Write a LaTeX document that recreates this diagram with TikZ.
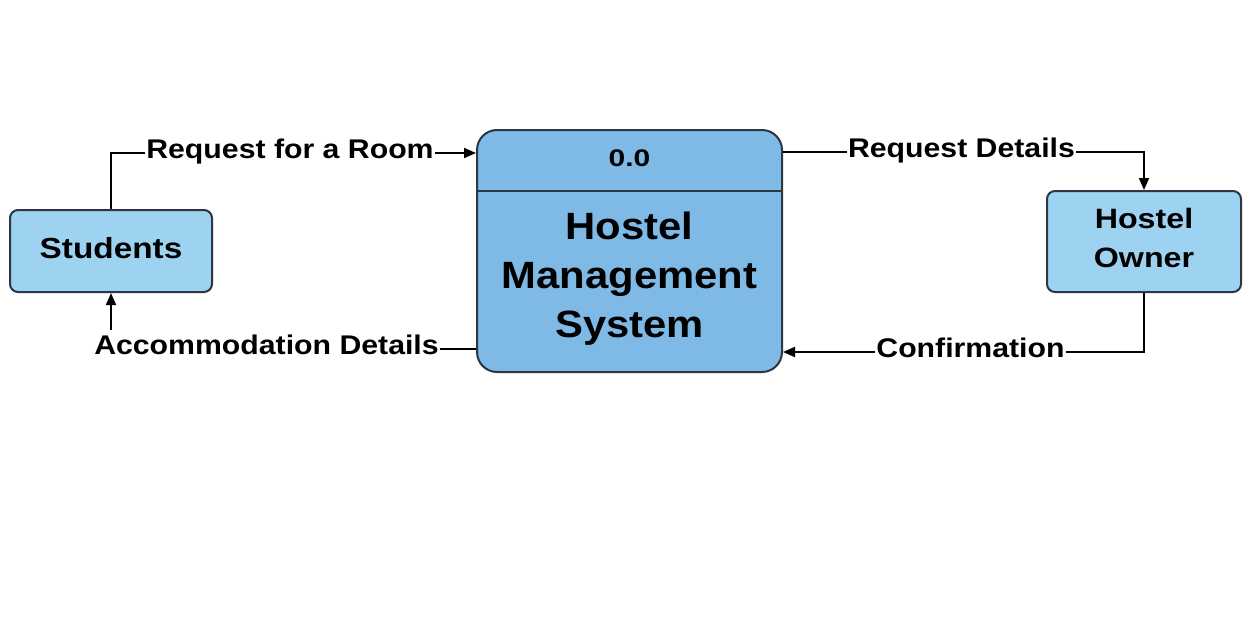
\documentclass[tikz,border=0pt]{standalone}
\usepackage{fontspec}
\setmainfont{Liberation Sans}
\newfontfamily\lblfont{Liberation Sans}[FakeStretch=1.12]
\newfontfamily\numfont{Liberation Sans}[FakeStretch=1.25]
\newfontfamily\extfont{Liberation Sans}[FakeStretch=1.15]
\newfontfamily\procfont{Liberation Sans}[FakeStretch=1.1]
\usetikzlibrary{arrows.meta,calc}
\definecolor{edgegray}{HTML}{2C3742}
\definecolor{extblue}{HTML}{9DD3F1}
\definecolor{procblue}{HTML}{7FB9E6}
\tikzset{
  extbox/.style={draw=edgegray, line width=2pt, fill=extblue, rounded corners=8pt,
    inner sep=0pt, align=center, font=\extfont\bfseries\fontsize{29}{39}\selectfont},
  procbox/.style={draw=edgegray, line width=2pt, fill=procblue, rounded corners=20pt, inner sep=0pt},
  flowlbl/.style={inner sep=1pt, text height=12pt, text depth=2pt,
    font=\lblfont\bfseries\fontsize{27}{31}\selectfont},
  flow/.style={draw=black, line width=1.8pt},
  flowarr/.style={flow, -{Triangle[length=12pt,width=10pt]}},
}
\begin{document}
\begin{tikzpicture}[x=1pt,y=-1pt]
\useasboundingbox (0,0) rectangle (1243,637);
\fill[white] (0,0) rectangle (1243,637);

% external entities
\node[extbox, minimum width=202pt, minimum height=82pt, text depth=7pt] (stu) at (111,251) {Students};
\node[extbox, minimum width=194pt, minimum height=101pt, text depth=8pt,
      font=\extfont\bfseries\fontsize{28}{39}\selectfont] (own) at (1144,241.5) {Hostel\\Owner};

% process
\node[procbox, minimum width=305pt, minimum height=242pt] (proc) at (629.5,251) {};
\coordinate (divy) at (629.5,191);
\draw[draw=edgegray, line width=2pt] (proc.west |- divy) -- (proc.east |- divy);
\node[inner sep=0pt, font=\numfont\bfseries\fontsize{24}{28}\selectfont] (pnum) at (629.5,158) {0.0};
\node[inner sep=0pt, align=center, font=\procfont\bfseries\fontsize{38}{49}\selectfont] (ptitle) at (629.5,279) {Hostel\\Management\\System};

% flow labels
\node[flowlbl] (rr) at (290,153) {Request for a Room};
\node[flowlbl] (ad) at (266.5,349) {Accommodation Details};
\node[flowlbl] (rd) at (961.5,152) {Request Details};
\node[flowlbl] (cf) at (970.5,352) {Confirmation};

% flows
\draw[flow] (stu.north) |- (rr.west);
\draw[flowarr] (rr.east) -- (rr.east -| proc.west);

\draw[flow] (proc.east |- rd) -- (rd.west);
\draw[flowarr] (rd.east) -| (own.north);

\draw[flow] (own.south) |- (cf.east);
\draw[flowarr] (cf.west) -- (cf.west -| proc.east);

\draw[flow] (proc.west |- ad) -- (ad.east);
\path (ad.center) ++(0,-19) coordinate (adtop);
\draw[flowarr] (stu.south |- adtop) -- (stu.south);
\end{tikzpicture}
\end{document}
